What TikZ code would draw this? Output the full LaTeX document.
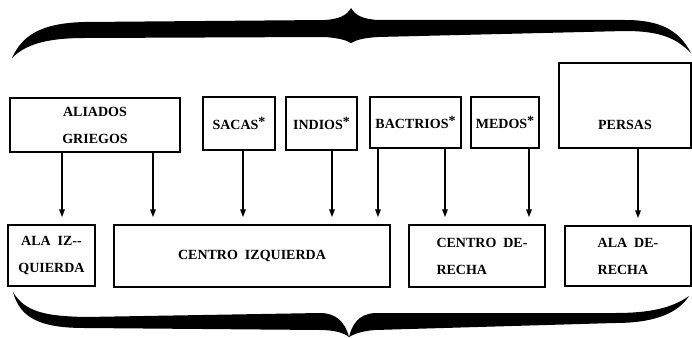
\documentclass[tikz,border=0pt]{standalone}
\usepackage{fontspec}
\setmainfont{Liberation Serif}[BoldFont={Liberation Serif Bold}]
\usetikzlibrary{arrows.meta}
\begin{document}
\begin{tikzpicture}[x=1pt,y=-1pt,
  box/.style={draw, line width=1.5pt, inner sep=0pt, font=\rmfamily\bfseries\fontsize{14}{27}\selectfont, align=center},
  lbox/.style={box, align=left},
  arr/.style={line width=1.6pt, -{Triangle[length=8pt,width=5.5pt]}, shorten >=7pt},
  bracefill/.style={fill=black}]
\fill[white] (0,0) rectangle (692,337);
\useasboundingbox (0,0) rectangle (692,337);
% top brace
\fill[bracefill] (12,58) .. controls (22,36) and (40,23) .. (85,22) -- (325,20)
  .. controls (340,19) and (347,15) .. (351,8)
  .. controls (355,15) and (362,19) .. (378,20) -- (625,20)
  .. controls (660,20) and (679,30) .. (691,53)
  .. controls (676,38) and (660,31) .. (625,31) -- (378,37)
  .. controls (363,38) and (356,40) .. (351,43)
  .. controls (346,40) and (338,38) .. (325,37) -- (85,38)
  .. controls (45,38) and (25,45) .. (12,58) -- cycle;
% bottom brace
\fill[bracefill] (13,292) .. controls (25,312) and (45,316) .. (85,317) -- (320,313)
  .. controls (336,313) and (345,322) .. (349,337)
  .. controls (352,325) and (358,314) .. (375,313) -- (615,313)
  .. controls (650,313) and (672,308) .. (689,296)
  .. controls (678,313) and (655,323) .. (615,323) -- (375,330)
  .. controls (362,331) and (354,334) .. (349,337)
  .. controls (344,333) and (335,330) .. (320,330) -- (85,328)
  .. controls (40,328) and (20,318) .. (13,292) -- cycle;
% top row
\node[box, minimum width=170pt, minimum height=54pt] (ali) at (95,125) {ALIADOS\\GRIEGOS};
\node[box, minimum width=72pt, minimum height=53pt] (sac) at (239,123.5) {SACAS\raisebox{0.35ex}{*}};
\node[box, minimum width=71pt, minimum height=53pt] (ind) at (321.5,123.5) {INDIOS\raisebox{0.35ex}{*}};
\node[box, minimum width=91pt, minimum height=51pt] (bac) at (415.5,122.5) {BACTRIOS\raisebox{0.35ex}{*}};
\node[box, minimum width=68pt, minimum height=51pt] (med) at (505,122.5) {MEDOS\raisebox{0.35ex}{*}};
\node[box, minimum width=132pt, minimum height=85pt] (per) at (625,105.5) {\smash{\raisebox{-24pt}{PERSAS}}};
% bottom row
\node[box, minimum width=87pt, minimum height=61pt] (aiz) at (51.5,255.5) {ALA\ \ IZ-{}-\\QUIERDA};
\node[box, minimum width=276pt, minimum height=62pt] (ciz) at (252,256) {CENTRO\ \ IZQUIERDA};
\node[lbox, minimum width=136pt, minimum height=62pt] (cde) at (477,256) {\hspace*{10pt}CENTRO\ \ DE-\\\hspace*{10pt}RECHA};
\node[lbox, minimum width=126pt, minimum height=60pt] (ade) at (628,256) {ALA\ \ DE-\\RECHA};
% arrow x positions
\coordinate (x1) at (62,0);
\coordinate (x2) at (153,0);
\coordinate (x3) at (243,0);
\coordinate (x4) at (332,0);
\coordinate (x5) at (378,0);
\coordinate (x6) at (445,0);
\coordinate (x7) at (529,0);
\coordinate (x8) at (638,0);
\draw[arr] (ali.south -| x1) -- (aiz.north -| x1);
\draw[arr] (ali.south -| x2) -- (ciz.north -| x2);
\draw[arr] (sac.south -| x3) -- (ciz.north -| x3);
\draw[arr] (ind.south -| x4) -- (ciz.north -| x4);
\draw[arr] (bac.south -| x5) -- (ciz.north -| x5);
\draw[arr] (bac.south -| x6) -- (cde.north -| x6);
\draw[arr] (med.south -| x7) -- (cde.north -| x7);
\draw[arr] (per.south -| x8) -- (ade.north -| x8);
\end{tikzpicture}
\end{document}
